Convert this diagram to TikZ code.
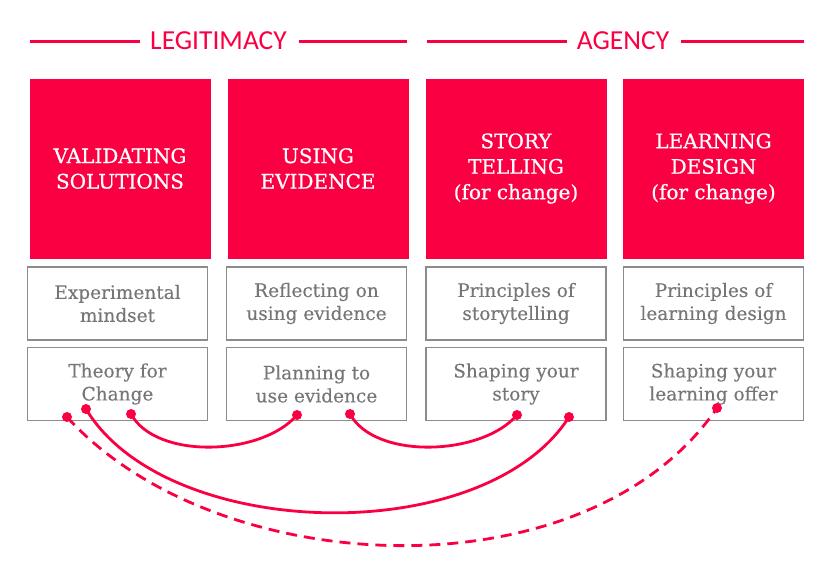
\documentclass[tikz,border=0pt]{standalone}
\usepackage{fontspec}
\setmainfont{DejaVu Serif}
\newfontfamily\headfont{Carlito}
\newfontfamily\pillarfont[FakeBold=0.7]{DejaVu Serif}
\newfontfamily\practicefont[FakeBold=0.2]{DejaVu Serif}
\definecolor{brandred}{RGB}{250,0,66}
\definecolor{boxgray}{RGB}{140,140,140}
\definecolor{textgray}{RGB}{118,118,118}
\begin{document}
\begin{tikzpicture}[x=1pt, y=-1pt]
    \tikzstyle{pillar} = [fill=brandred, text=white, align=center, minimum width=181pt, minimum height=180pt, inner sep=0pt, font=\pillarfont\fontsize{20}{25.5}\selectfont]
    \tikzstyle{practice} = [draw=boxgray, line width=1.4pt, text=textgray, align=center, minimum width=180pt, minimum height=73pt, inner sep=0pt, font=\practicefont\fontsize{18.5}{23}\selectfont]
    \tikzstyle{heading} = [text=brandred, font=\headfont\fontsize{27.5}{30}\selectfont, inner sep=0pt]
    \tikzstyle{rule} = [brandred, line width=3pt]
    \tikzstyle{link} = [brandred, line width=2.8pt]
    \tikzstyle{dot} = [circle, fill=brandred, minimum size=10pt, inner sep=0pt]
    \useasboundingbox (0,0) rectangle (840,565);

    % headings
    \node[heading] (legit) at (218.5,41) {LEGITIMACY};
    \node[heading] (agency) at (623,41) {AGENCY};
    \coordinate (l1) at (30,41);
    \coordinate (l2) at (407,41);
    \coordinate (a1) at (427,41);
    \coordinate (a2) at (804,41);
    \draw[rule] (l1) -- ([xshift=-10pt]legit.west);
    \draw[rule] ([xshift=12pt]legit.east) -- (l2);
    \draw[rule] (a1) -- ([xshift=-10pt]agency.west);
    \draw[rule] ([xshift=12pt]agency.east) -- (a2);

    % pillars
    \node[pillar] (validating) at (120,168.5) {VALIDATING\\SOLUTIONS};
    \node[pillar] (evidence) at (318,168.5) {USING\\EVIDENCE};
    \node[pillar] (story) at (516,168.5) {STORY\\TELLING\\(for change)};
    \node[pillar] (learning) at (713.5,168.5) {LEARNING\\DESIGN\\(for change)};

    % practices
    \node[practice] (mindset) at (117.5,303.5) {Experimental\\mindset};
    \node[practice] (reflect) at (316.5,303.5) {Reflecting on\\using evidence};
    \node[practice] (principles) at (516,303.5) {Principles of\\storytelling};
    \node[practice] (ldprinciples) at (713.5,303.5) {Principles of\\learning design};
    \node[practice] (theory) at (117.5,384) {Theory for\\Change};
    \node[practice] (planning) at (316.5,384) {Planning to\\use evidence};
    \node[practice] (shaping) at (516,384) {Shaping your\\story};
    \node[practice] (offer) at (713.5,384) {Shaping your\\learning offer};

    % links
    \node[dot] (t1) at (67,417) {};
    \node[dot] (t2) at (86,409) {};
    \node[dot] (t3) at (131,414) {};
    \node[dot] (p1) at (297,415) {};
    \node[dot] (p2) at (350,414) {};
    \node[dot] (s1) at (517,415) {};
    \node[dot] (s2) at (569,417) {};
    \node[dot] (o1) at (717,408) {};
    \draw[link] (t3.center) .. controls +(25,46) and +(-35,41) .. (p1.center);
    \draw[link] (p2.center) .. controls +(25,46) and +(-35,41) .. (s1.center);
    \draw[link] (t2.center) .. controls +(80,133) and +(-85,133) .. (s2.center);
    \draw[link, dash pattern=on 11pt off 7pt] (t1.center) .. controls +(150,165) and +(-130,190) .. (o1.center);
\end{tikzpicture}
\end{document}
